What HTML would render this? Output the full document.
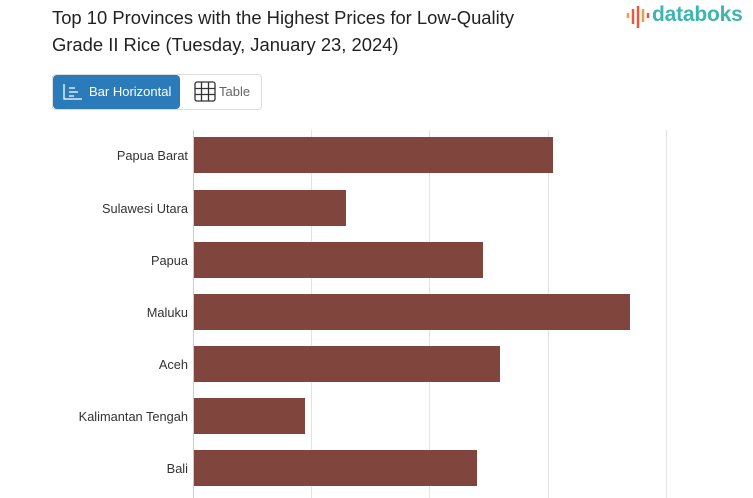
<!DOCTYPE html>
<html><head><style>
body{margin:0;width:753px;height:498px;overflow:hidden;background:#fff;font-family:"Liberation Sans",Arial,sans-serif;position:relative}
.t{position:absolute;left:52px;top:4px;font-size:18.4px;line-height:27px;color:#222}
.logo{position:absolute;left:652px;top:3px;font-size:21px;color:#3db5b0;font-weight:bold;letter-spacing:-0.2px}
.btns{position:absolute;left:52px;top:74px;width:208px;height:34px;border:1px solid #ddd;border-radius:4px}
.b1{position:absolute;left:0;top:0;width:127px;height:34px;background:#2b7bba;border-radius:4px;color:#fff;font-size:13px;line-height:34px}
.b2{position:absolute;left:166px;top:0;color:#666;font-size:13px;line-height:34px}
.lab{position:absolute;right:565px;font-size:12.8px;color:#333;text-align:right;white-space:nowrap}
</style></head><body>
<div class="t">Top 10 Provinces with the Highest Prices for Low-Quality<br>Grade II Rice (Tuesday, January 23, 2024)</div>
<svg style="position:absolute;left:626px;top:4px" width="24" height="26"><g stroke-width="2.5"><line x1="2" y1="9" x2="2" y2="14" stroke="#f39c3a"/><line x1="7" y1="5" x2="7" y2="20" stroke="#e9573f"/><line x1="12" y1="2" x2="12" y2="24" stroke="#e9573f"/><line x1="17" y1="5" x2="17" y2="18" stroke="#f39c3a"/><line x1="22" y1="9" x2="22" y2="14" stroke="#e9573f"/></g></svg>
<div class="logo">databoks</div>
<div class="btns"><div class="b1"><svg style="position:absolute;left:10px;top:8px" width="20" height="18" fill="none" stroke="#fff" stroke-width="1.3"><path d="M1 1V16H19M6 5H12M6 9H15M6 13H11"/></svg><span style="margin-left:36px">Bar Horizontal</span></div>
<svg style="position:absolute;left:141px;top:6px" width="22" height="21" fill="none" stroke="#333" stroke-width="1.3"><rect x="1" y="1" width="20" height="19" rx="2"/><path d="M7.5 1V20M14.5 1V20M1 7.5H21M1 13.5H21"/></svg><div class="b2">Table</div></div>
<svg style="position:absolute;left:0;top:0" width="753" height="498">
<g stroke="#e3e3e3" stroke-width="1"><line x1="311.5" y1="130" x2="311.5" y2="498"/><line x1="429.5" y1="130" x2="429.5" y2="498"/><line x1="548.5" y1="130" x2="548.5" y2="498"/><line x1="666.5" y1="130" x2="666.5" y2="498"/></g>
<line x1="193.5" y1="130" x2="193.5" y2="498" stroke="#ccc"/>
<g fill="#80453c"><rect x="194" y="137" width="359" height="36"/><rect x="194" y="190" width="152" height="36"/><rect x="194" y="242" width="289" height="36"/><rect x="194" y="294" width="436" height="36"/><rect x="194" y="346" width="306" height="36"/><rect x="194" y="398" width="111" height="36"/><rect x="194" y="450" width="283" height="36"/></g>
</svg>
<div class="lab" style="top:148px">Papua Barat</div>
<div class="lab" style="top:201px">Sulawesi Utara</div>
<div class="lab" style="top:253px">Papua</div>
<div class="lab" style="top:305px">Maluku</div>
<div class="lab" style="top:357px">Aceh</div>
<div class="lab" style="top:409px">Kalimantan Tengah</div>
<div class="lab" style="top:461px">Bali</div>
</body></html>
